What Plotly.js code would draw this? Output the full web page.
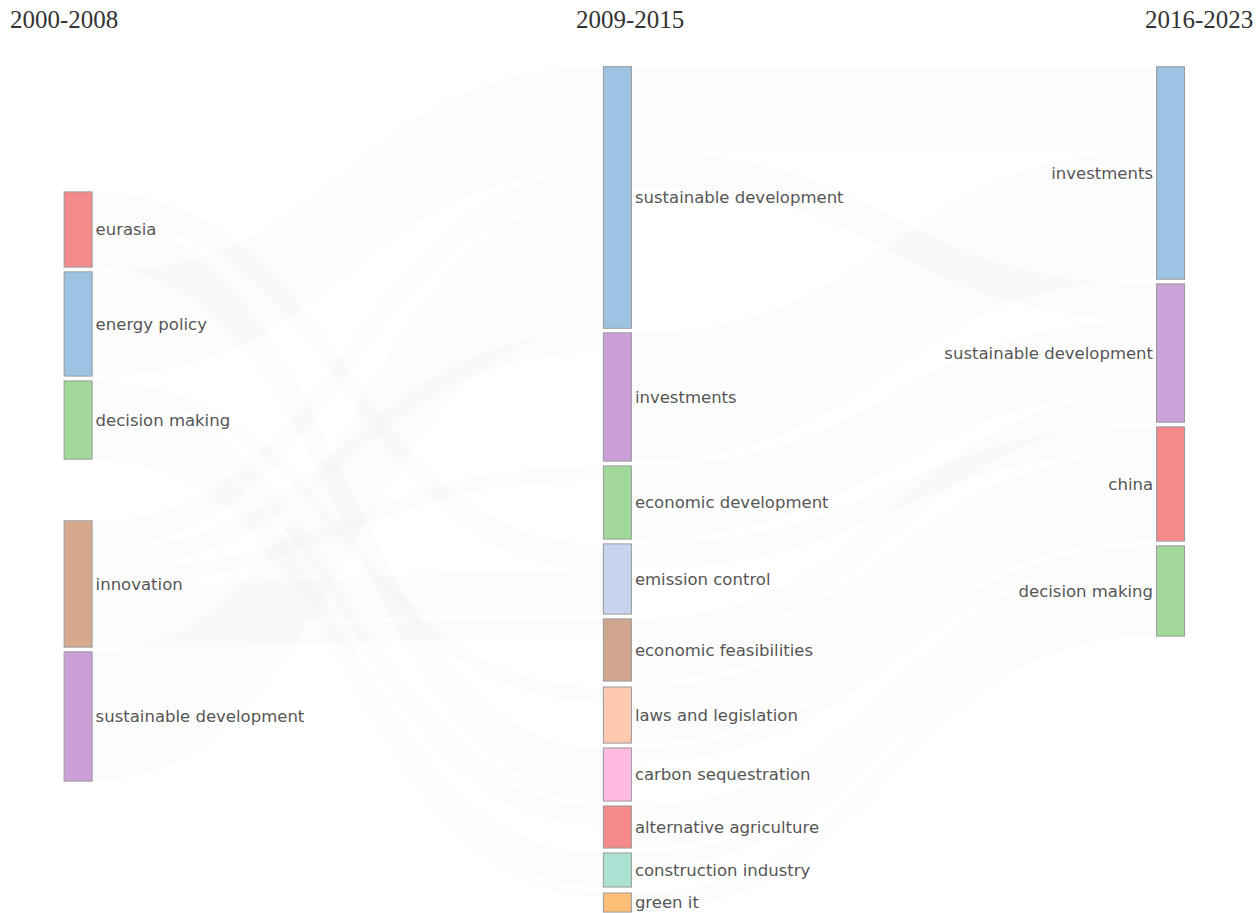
<!DOCTYPE html>
<html>
<head>
<meta charset="utf-8">
<script src="https://cdn.plot.ly/plotly-3.0.1.min.js"></script>
<style>html,body{margin:0;padding:0;background:#fff;}#chart{width:1260px;height:913px;}</style>
</head>
<body>
<div id="chart"></div>
<script>
// Period titles
const periods = ["2000-2008", "2009-2015", "2016-2023"];

// Node labels (per period column)
const nodeLabels = [
  // 2000-2008
  "eurasia", "energy policy", "decision making", "innovation", "sustainable development",
  // 2009-2015
  "sustainable development", "investments", "economic development", "emission control",
  "economic feasibilities", "laws and legislation", "carbon sequestration",
  "alternative agriculture", "construction industry", "green it",
  // 2016-2023
  "investments", "sustainable development", "china", "decision making"
];

const nodeColors = [
  "#f48a8a", "#9dc3e2", "#a0d99a", "#d6a98f", "#cc9fd8",
  "#9dc3e2", "#cc9fd8", "#a0d99a", "#c8d4ee", "#cfa58d", "#ffc9b0", "#ffbbe2",
  "#f48a8a", "#aae1d2", "#ffbe78",
  "#9dc3e2", "#c9a2d8", "#f48a8a", "#a0d99a"
];

// Node positions (normalized centre of each node)
const nodeX = [
  0.062, 0.062, 0.062, 0.062, 0.062,
  0.490, 0.490, 0.490, 0.490, 0.490, 0.490, 0.490, 0.490, 0.490, 0.490,
  0.929, 0.929, 0.929, 0.929
];
const nodeY = [
  0.1923, 0.3041, 0.4178, 0.6118, 0.7686,
  0.1544, 0.3905, 0.5154, 0.6059, 0.6899, 0.7669, 0.8373, 0.8994, 0.9503, 0.9888,
  0.1254, 0.3385, 0.4935, 0.6201
];

// Links (source index, target index, value)
const linkSource = [4, 1, 3, 3, 3, 3, 3, 0, 0, 2, 2, 2, 2, 2,
                    6, 5, 5, 7, 9, 9, 10, 8, 11, 12, 13, 14];
const linkTarget = [5, 5, 5, 6, 7, 9, 8, 8, 11, 11, 10, 12, 13, 14,
                    15, 15, 16, 16, 16, 17, 17, 17, 18, 18, 18, 18];
const linkValue  = [129, 104, 28, 20, 15, 20, 43, 27, 48, 5, 15, 20, 34, 4,
                    128, 84, 36, 73, 29, 33, 56, 25, 14, 42, 15, 19];

const trace = {
  type: "sankey",
  arrangement: "fixed",
  domain: {x: [0, 1], y: [0, 1]},
  hoverinfo: "none",
  node: {
    label: nodeLabels,
    color: nodeColors,
    x: nodeX,
    y: nodeY,
    pad: 5,
    thickness: 28,
    line: {color: "#9a9a9a", width: 1},
    hoverinfo: "none"
  },
  link: {
    source: linkSource,
    target: linkTarget,
    value: linkValue,
    color: "rgba(0,0,0,0.013)",
    hoverinfo: "none"
  },
  textfont: {family: "DejaVu Sans, Verdana, sans-serif", size: 16.5, color: "#555555"}
};

const titleFont = {family: "Liberation Serif, Times New Roman, serif", size: 25, color: "#333333"};

const layout = {
  width: 1260,
  height: 913,
  margin: {l: 0, r: 0, t: 67, b: 1},
  paper_bgcolor: "#ffffff",
  showlegend: false,
  annotations: [
    {text: periods[0], xref: "paper", yref: "paper", x: 0.006, y: 1, xanchor: "left", yanchor: "bottom", yshift: 32, showarrow: false, font: titleFont},
    {text: periods[1], xref: "paper", yref: "paper", x: 0.5, y: 1, xanchor: "center", yanchor: "bottom", yshift: 32, showarrow: false, font: titleFont},
    {text: periods[2], xref: "paper", yref: "paper", x: 0.996, y: 1, xanchor: "right", yanchor: "bottom", yshift: 32, showarrow: false, font: titleFont}
  ]
};

Plotly.newPlot("chart", [trace], layout, {displayModeBar: false, staticPlot: true});
</script>
</body>
</html>
